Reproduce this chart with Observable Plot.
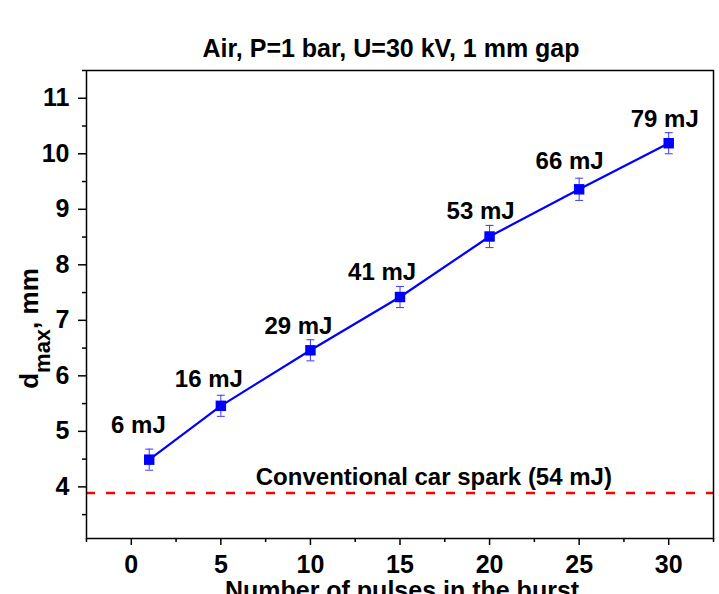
<!DOCTYPE html>
<html>
<head>
<meta charset="utf-8">
<script src="https://cdn.jsdelivr.net/npm/d3@7"></script>
<script src="https://cdn.jsdelivr.net/npm/@observablehq/plot@0.6"></script>
<style>
  html, body { margin: 0; padding: 0; background: #fff; overflow: hidden; }
  #chart svg { display: block; }
</style>
</head>
<body>
<div id="chart"></div>
<script>
// ---- data ----
const pulses   = [1, 5, 10, 15, 20, 25, 30];
const dmax     = [4.49, 5.46, 6.46, 7.42, 8.51, 9.36, 10.19];
const dmaxErr  = [0.19, 0.19, 0.19, 0.19, 0.20, 0.20, 0.19];
const energies = ["6 mJ", "16 mJ", "29 mJ", "41 mJ", "53 mJ", "66 mJ", "79 mJ"];
// annotation anchor positions (data units)
const energyLabelX = [0.4, 4.33, 9.33, 14.0, 19.5, 24.47, 29.78];
const energyLabelY = [4.97, 5.80, 6.76, 7.72, 8.83, 9.73, 10.49];
const sparkLevel = 3.89;
const sparkLabel = "Conventional car spark (54 mJ)";
const sparkLabelX = 6.95;
const sparkLabelY = 4.03;
const xTicks = [0, 5, 10, 15, 20, 25, 30];
const xMinorTicks = [-2.5, 2.5, 7.5, 12.5, 17.5, 22.5, 27.5, 32.5];
const yTicks = [4, 5, 6, 7, 8, 9, 10, 11];
const yMinorTicks = [3.5, 4.5, 5.5, 6.5, 7.5, 8.5, 9.5, 10.5, 11.5];
const titleText = "Air, P=1 bar, U=30 kV, 1 mm gap";
const xTitle = "Number of pulses in the burst";
const yTitle = "dmax, mm";

const points = pulses.map((x, i) => ({x, y: dmax[i], lo: dmax[i] - dmaxErr[i], hi: dmax[i] + dmaxErr[i]}));
const labels = energies.map((t, i) => ({t, x: energyLabelX[i], y: energyLabelY[i]}));

const capSymbol = {
  draw(ctx, size) {
    const w = Math.sqrt(size / Math.PI);
    ctx.moveTo(-w, 0);
    ctx.lineTo(w, 0);
  }
};

const FONT = "'Liberation Sans', Arial, Helvetica, sans-serif";

const chart = Plot.plot({
  width: 719,
  height: 594,
  marginLeft: 86,
  marginRight: 6,
  marginTop: 70,
  marginBottom: 56,
  x: {domain: [-2.5, 32.5]},
  y: {domain: [3.07, 11.5]},
  style: {fontFamily: FONT, background: "white", color: "black", overflow: "visible"},
  marks: [
    Plot.ruleY([sparkLevel], {stroke: "#ff0000", strokeWidth: 2.5, strokeDasharray: "9,11"}),
    Plot.text([sparkLabel], {x: () => sparkLabelX, y: () => sparkLabelY, text: d => d, textAnchor: "start", lineAnchor: "bottom", fontSize: 24, fontWeight: "bold", fill: "black"}),
    Plot.ruleX(points, {x: "x", y1: "lo", y2: "hi", stroke: "#3a3aff", strokeWidth: 1}),
    Plot.dot(points, {x: "x", y: "lo", symbol: capSymbol, r: 4, stroke: "#3a3aff", strokeWidth: 1, fill: "none"}),
    Plot.dot(points, {x: "x", y: "hi", symbol: capSymbol, r: 4, stroke: "#3a3aff", strokeWidth: 1, fill: "none"}),
    Plot.line(points, {x: "x", y: "y", stroke: "#0000ff", strokeWidth: 2.2}),
    Plot.dot(points, {x: "x", y: "y", symbol: "square", r: 5.9, fill: "#0000ff", stroke: "none"}),
    Plot.text(labels, {x: "x", y: "y", text: "t", lineAnchor: "bottom", fontSize: 24, fontWeight: "bold", fill: "black"}),
    Plot.axisX(xTicks, {tickSize: 7, tickPadding: 10, fontSize: 25, fontWeight: "bold", strokeWidth: 1.5, stroke: "black", fill: "black", label: null, tickFormat: d3.format("d")}),
    Plot.axisX(xMinorTicks, {tickSize: 4, tickFormat: () => "", strokeWidth: 1.5, stroke: "black", label: null}),
    Plot.axisY(yTicks, {tickSize: 8, tickPadding: 9, fontSize: 25, fontWeight: "bold", strokeWidth: 1.5, stroke: "black", fill: "black", label: null, tickFormat: d3.format("d")}),
    Plot.axisY(yMinorTicks, {tickSize: 4, tickFormat: () => "", strokeWidth: 1.5, stroke: "black", label: null}),
    Plot.frame({stroke: "black", strokeWidth: 1.5}),
    Plot.text([titleText], {frameAnchor: "top", dy: -14, dx: -9, lineAnchor: "bottom", fontSize: 25, fontWeight: "bold", fill: "black"}),
    Plot.text([xTitle], {frameAnchor: "bottom", dy: 60, dx: 2, lineAnchor: "bottom", fontSize: 25, fontWeight: "bold", fill: "black"}),
    Plot.text([yTitle], {frameAnchor: "left", rotate: -90, dx: -49, dy: 24, textAnchor: "middle", lineAnchor: "bottom", fontSize: 26, fontWeight: "bold", fill: "black"})
  ]
});

document.getElementById("chart").appendChild(chart);

// turn "dmax, mm" into d + subscript "max" + ", mm"
d3.select(chart).selectAll("text").filter(function() { return this.textContent === yTitle; })
  .each(function() {
    const t = d3.select(this);
    t.text(null);
    t.append("tspan").text("d");
    t.append("tspan").attr("font-size", 22).attr("dy", 12).text("max");
    t.append("tspan").attr("dy", -12).text(", mm");
  });
</script>
</body>
</html>
